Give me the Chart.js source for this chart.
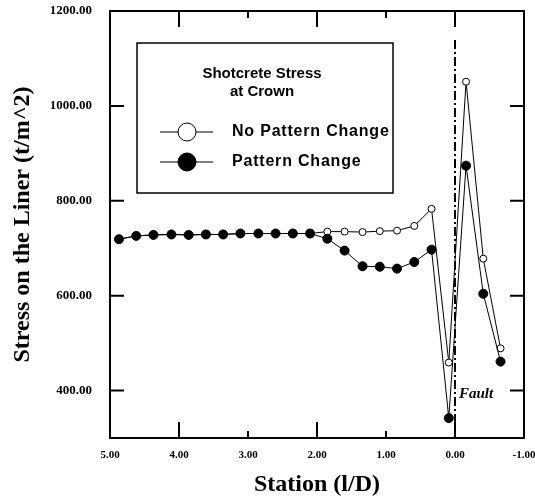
<!DOCTYPE html>
<html>
<head>
<meta charset="utf-8">
<script src="https://cdn.jsdelivr.net/npm/chart.js@4.4.0/dist/chart.umd.min.js"></script>
<style>
  html, body { margin: 0; padding: 0; background: #fff; }
  #wrap { width: 535px; height: 499px; }
</style>
</head>
<body>
<div id="wrap"><canvas id="stressChart" width="535" height="499"></canvas></div>
<script>
// Station (l/D) of each measuring point
const stations = [4.87, 4.62, 4.37, 4.11, 3.86, 3.61, 3.36, 3.11, 2.85, 2.60, 2.35, 2.10,
                  1.85, 1.60, 1.34, 1.09, 0.84, 0.59, 0.34, 0.09, -0.16, -0.41, -0.66];
// Shotcrete stress at crown (t/m^2)
const noPatternChange = [719, 726, 728, 729, 728, 729, 729, 731, 731, 731, 731, 731,
                         735, 735, 734, 736, 737, 747, 783, 459, 1051, 678, 489];
const patternChange = [719, 726, 728, 729, 728, 729, 729, 731, 731, 731, 731, 731,
                       720, 695, 662, 661, 657, 671, 697, 342, 874, 604, 461];
const xTickValues = [5, 4, 3, 2, 1, 0, -1];
const yTickValues = [400, 600, 800, 1000, 1200];
const faultStation = 0.0;

const serifBold = '"Liberation Serif", "Times New Roman", serif';
const sansBold = '"Liberation Sans", Arial, sans-serif';

function toPoints(values) {
    return stations.map((s, i) => ({ x: s, y: values[i] }));
}

// box, inward ticks, fault line and the legend panel
const framePlugin = {
    id: 'frame',
    afterDatasetsDraw(chart) {
        const { ctx, chartArea: a, scales } = chart;
        const fx = scales.x.getPixelForValue(faultStation);
        ctx.save();
        ctx.strokeStyle = '#000';
        ctx.lineWidth = 2;
        ctx.setLineDash([9, 3, 2, 3]);
        ctx.beginPath();
        ctx.moveTo(fx, a.top + 29);
        ctx.lineTo(fx, a.bottom);
        ctx.stroke();
        ctx.setLineDash([]);
        ctx.fillStyle = '#000';
        ctx.font = 'italic bold 15px ' + serifBold;
        ctx.textAlign = 'left';
        ctx.textBaseline = 'middle';
        ctx.fillText('Fault', fx + 4, scales.y.getPixelForValue(392));
        ctx.restore();
    },
    afterDraw(chart) {
        const { ctx, chartArea: a, scales } = chart;
        ctx.save();
        ctx.strokeStyle = '#000';
        ctx.lineWidth = 2;
        ctx.strokeRect(a.left, a.top, a.right - a.left, a.bottom - a.top);

        // y ticks on both sides
        yTickValues.forEach(v => {
            const y = scales.y.getPixelForValue(v);
            ctx.beginPath();
            ctx.moveTo(a.left, y); ctx.lineTo(a.left + 14, y);
            ctx.moveTo(a.right, y); ctx.lineTo(a.right - 14, y);
            ctx.stroke();
        });
        // x ticks, major at even stations, minor at odd
        [4, 3, 2, 1, 0].forEach(v => {
            const x = scales.x.getPixelForValue(v);
            const len = v % 2 === 0 ? 16 : 7;
            ctx.beginPath();
            ctx.moveTo(x, a.bottom); ctx.lineTo(x, a.bottom - len);
            ctx.moveTo(x, a.top); ctx.lineTo(x, a.top + len);
            ctx.stroke();
        });

        // legend panel
        const bx = 137, by = 43, bw = 256, bh = 150;
        ctx.fillStyle = '#fff';
        ctx.fillRect(bx, by, bw, bh);
        ctx.lineWidth = 1.5;
        ctx.strokeRect(bx, by, bw, bh);
        ctx.fillStyle = '#000';
        ctx.font = 'bold 15px ' + sansBold;
        ctx.textAlign = 'center';
        ctx.textBaseline = 'middle';
        ctx.fillText('Shotcrete Stress', 262, 74);
        ctx.fillText('at Crown', 262, 92);

        const entries = [
            { y: 132, text: 'No Pattern Change', filled: false },
            { y: 162, text: 'Pattern Change', filled: true }
        ];
        entries.forEach(e => {
            ctx.lineWidth = 1;
            ctx.beginPath();
            ctx.moveTo(160, e.y); ctx.lineTo(213, e.y);
            ctx.stroke();
            ctx.beginPath();
            ctx.arc(187, e.y, 9, 0, Math.PI * 2);
            ctx.fillStyle = e.filled ? '#000' : '#fff';
            ctx.fill();
            ctx.stroke();
            ctx.fillStyle = '#000';
            ctx.textAlign = 'left';
            ctx.font = 'bold 16px ' + sansBold;
            ctx.letterSpacing = '0.8px';
            ctx.fillText(e.text, 232, e.y);
            ctx.letterSpacing = '0px';
        });
        ctx.restore();
    }
};

function initializeStressChart() {
    const ctx = document.getElementById('stressChart');
    if (!ctx) {
        console.error('#stressChart not found');
        return;
    }

    new Chart(ctx, {
        type: 'line',
        data: {
            datasets: [{
                label: 'Pattern Change',
                data: toPoints(patternChange),
                borderColor: '#000',
                borderWidth: 1,
                backgroundColor: '#000',
                pointBackgroundColor: '#000',
                pointBorderColor: '#000',
                pointRadius: 4.5,
                tension: 0
            }, {
                label: 'No Pattern Change',
                data: toPoints(noPatternChange),
                borderColor: '#000',
                borderWidth: 1,
                backgroundColor: '#fff',
                pointBackgroundColor: '#fff',
                pointBorderColor: '#000',
                pointBorderWidth: 1,
                pointRadius: 3.5,
                tension: 0
            }]
        },
        options: {
            responsive: false,
            animation: false,
            events: [],
            layout: { padding: { top: 11, right: 11, left: 0, bottom: 0 } },
            plugins: {
                legend: { display: false },
                tooltip: { enabled: false }
            },
            scales: {
                x: {
                    type: 'linear',
                    reverse: true,
                    min: -1,
                    max: 5,
                    grid: { display: false, drawTicks: false },
                    border: { display: false },
                    afterBuildTicks: scale => { scale.ticks = xTickValues.map(v => ({ value: v })); },
                    afterFit: scale => {
                        scale.height = 61;
                        scale.paddingLeft = 0;
                        scale.paddingRight = 0;
                    },
                    ticks: {
                        padding: 11,
                        color: '#000',
                        font: { family: serifBold, size: 11, weight: 'bold' },
                        callback: v => v.toFixed(2)
                    },
                    title: {
                        display: true,
                        text: 'Station (l/D)',
                        color: '#000',
                        font: { family: serifBold, size: 24, weight: 'bold' },
                        padding: { top: 7, bottom: 0 }
                    }
                },
                y: {
                    min: 300,
                    max: 1200,
                    grid: { display: false, drawTicks: false },
                    border: { display: false },
                    afterBuildTicks: scale => { scale.ticks = yTickValues.map(v => ({ value: v })); },
                    afterFit: scale => {
                        scale.width = 110;
                        scale.paddingTop = 0;
                        scale.paddingBottom = 0;
                    },
                    ticks: {
                        padding: 18,
                        color: '#000',
                        font: { family: serifBold, size: 13, weight: 'bold' },
                        callback: v => v.toFixed(2)
                    },
                    title: {
                        display: true,
                        text: 'Stress on the Liner (t/m^2)',
                        color: '#000',
                        font: { family: serifBold, size: 24, weight: 'bold' },
                        padding: { top: 8, bottom: 0 }
                    }
                }
            }
        },
        plugins: [framePlugin]
    });
}

if (document.readyState === 'complete') {
    initializeStressChart();
} else {
    document.addEventListener('DOMContentLoaded', initializeStressChart);
}
</script>
</body>
</html>
